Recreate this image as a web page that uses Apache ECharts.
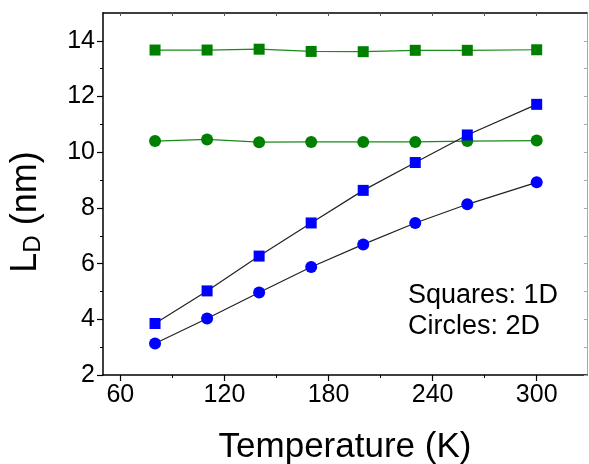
<!DOCTYPE html>
<html>
<head>
<meta charset="utf-8">
<style>html,body{margin:0;padding:0;background:#fff;}#c{width:589px;height:464px;}</style>
<script src="https://cdn.jsdelivr.net/npm/echarts@6/dist/echarts.min.js"></script>
</head>
<body>
<div id="c"></div>
<script>
const temperatures = [80, 110, 140, 170, 200, 230, 260, 300];
const green1D = [13.67, 13.67, 13.70, 13.62, 13.61, 13.66, 13.66, 13.68];
const green2D = [10.40, 10.46, 10.36, 10.37, 10.37, 10.37, 10.40, 10.42];
const blue1D = [3.85, 5.02, 6.27, 7.46, 8.63, 9.63, 10.62, 11.72];
const blue2D = [3.13, 4.03, 4.96, 5.88, 6.69, 7.46, 8.13, 8.92];
const xMajorTicks = [60, 120, 180, 240, 300];
const xMinorTicks = [90, 150, 210, 270];
const yMajorTicks = [2, 4, 6, 8, 10, 12, 14];
const yMinorTicks = [3, 5, 7, 9, 11, 13];
const annotations = ['Squares: 1D', 'Circles: 2D'];

const FONT = 'Liberation Sans, Arial, sans-serif';
const pairs = (ys) => temperatures.map((t, i) => [t, ys[i]]);

const chart = echarts.init(document.getElementById('c'), null, {renderer: 'canvas'});
const xBase = {type: 'value', min: 50, max: 329, splitLine: {show: false}};
const yBase = {type: 'value', min: 2, max: 15, splitLine: {show: false}};
chart.setOption({
  animation: false,
  backgroundColor: '#fff',
  grid: {left: 103, top: 13, width: 484, bottom: 89, containLabel: false, outerBoundsMode: 'none'},
  xAxis: [
    Object.assign({}, xBase, {
      position: 'bottom',
      name: 'Temperature (K)', nameLocation: 'middle', nameGap: 55,
      nameTextStyle: {fontFamily: FONT, fontSize: 35, color: '#000'},
      axisLine: {show: true, lineStyle: {color: '#000', width: 1.5}},
      axisTick: {show: true, inside: false, length: 6, customValues: xMajorTicks, lineStyle: {color: '#000', width: 1.2}},
      axisLabel: {show: true, customValues: xMajorTicks, fontFamily: FONT, fontSize: 25, color: '#000', margin: 8}
    }),
    Object.assign({}, xBase, {
      position: 'bottom',
      axisLine: {show: false},
      axisTick: {show: true, inside: false, length: 3, customValues: xMinorTicks, lineStyle: {color: '#000', width: 1}},
      axisLabel: {show: false}
    }),
    Object.assign({}, xBase, {
      position: 'top',
      axisLine: {show: true, lineStyle: {color: '#000', width: 1.5}},
      axisTick: {show: true, inside: true, length: 3, customValues: xMajorTicks.concat(xMinorTicks), lineStyle: {color: '#555', width: 1}},
      axisLabel: {show: false}
    })
  ],
  yAxis: [
    Object.assign({}, yBase, {
      position: 'left',
      name: '{l|L}{d|D}{n| (nm)}', nameLocation: 'middle', nameGap: 58,
      nameTextStyle: {
        fontFamily: FONT, color: '#000', padding: [0, 36, 0, 0],
        rich: {
          l: {fontFamily: FONT, fontSize: 36, color: '#000'},
          d: {fontFamily: FONT, fontSize: 24, color: '#000', verticalAlign: 'bottom', padding: [14, 0, 0, 0]},
          n: {fontFamily: FONT, fontSize: 36, color: '#000'}
        }
      },
      axisLine: {show: true, lineStyle: {color: '#000', width: 1.5}},
      axisTick: {show: true, inside: false, length: 6, customValues: yMajorTicks, lineStyle: {color: '#000', width: 1.2}},
      axisLabel: {customValues: yMajorTicks, fontFamily: FONT, fontSize: 25, color: '#000', margin: 8}
    }),
    Object.assign({}, yBase, {
      position: 'left',
      axisLine: {show: false},
      axisTick: {show: true, inside: false, length: 3, customValues: yMinorTicks, lineStyle: {color: '#000', width: 1}},
      axisLabel: {show: false}
    }),
    Object.assign({}, yBase, {
      position: 'right',
      axisLine: {show: true, lineStyle: {color: '#aaa', width: 1}},
      axisTick: {show: true, inside: true, length: 3, customValues: yMajorTicks.concat(yMinorTicks), lineStyle: {color: '#aaa', width: 1}},
      axisLabel: {show: false}
    })
  ],
  series: [
    {type: 'line', name: 'green 1D', data: pairs(green1D), symbol: 'rect', symbolSize: 11,
     itemStyle: {color: '#008000'}, lineStyle: {color: '#1a8a1a', width: 1.2}},
    {type: 'line', name: 'green 2D', data: pairs(green2D), symbol: 'circle', symbolSize: 12,
     itemStyle: {color: '#008000'}, lineStyle: {color: '#1a8a1a', width: 1.2}},
    {type: 'line', name: 'blue 1D', data: pairs(blue1D), symbol: 'rect', symbolSize: 11,
     itemStyle: {color: '#0000ff'}, lineStyle: {color: '#222', width: 1.2}},
    {type: 'line', name: 'blue 2D', data: pairs(blue2D), symbol: 'circle', symbolSize: 12,
     itemStyle: {color: '#0000ff'}, lineStyle: {color: '#222', width: 1.2}}
  ],
  graphic: annotations.map((t, i) => ({
    type: 'text', left: 408, top: 282 + i * 31,
    style: {text: t, fontFamily: FONT, fontSize: 27, fill: '#000'}
  }))
});
</script>
</body>
</html>
